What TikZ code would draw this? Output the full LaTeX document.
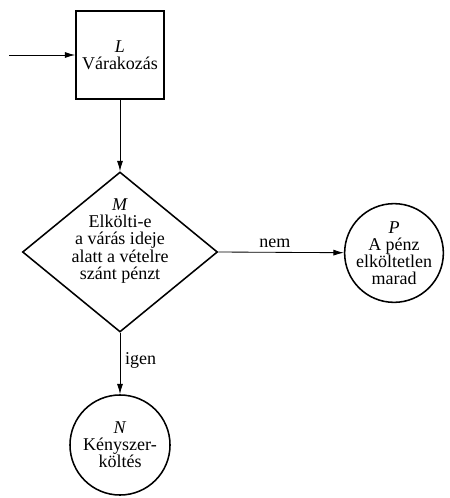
\documentclass[tikz,border=0pt]{standalone}
\usepackage{fontspec}
\setmainfont{Liberation Serif}
\usepackage{tikz}
\usetikzlibrary{arrows.meta,shapes.geometric,positioning,calc}

\begin{document}
\begin{tikzpicture}[x=0.025cm, y=-0.025cm,
  every node/.style={font=\fontsize{12.8}{12.2}\selectfont},
  stepbox/.style={draw, line width=1.1pt, minimum width=2.2cm, minimum height=2.2cm, align=center},
  decision/.style={draw, diamond, line width=1.1pt, minimum width=4.875cm, minimum height=4cm, inner sep=0pt},
  outcome/.style={draw, circle, line width=1.1pt, minimum size=2.45cm, inner sep=0pt, align=center},
  arr/.style={-{Latex[length=2.6mm,width=1.5mm]}, line width=0.6pt},
]
\useasboundingbox (0,0) rectangle (449,498);
\coordinate (in) at (9,55);
\node[stepbox] (L) at (120,55) {\textit{L}\\Várakozás};
\node[decision] (M) at (120,252) {};
\node[align=center] (Mtext) at (120,241) {\textit{M}\\Elkölti-e\\a várás ideje\\alatt a vételre\\szánt pénzt};
\node[outcome] (P) at (394,253) {\textit{P}\\A pénz\\elköltetlen\\marad};
\node[outcome, minimum size=2.5cm] (N) at (120,445) {\textit{N}\\Kényszer-\\költés};
\draw[arr] (in) -- (L);
\draw[arr] (L.south) -- (M.north);
\draw[arr] (M.east) -- node[above, pos=0.45] (nem) {nem} (P);
\draw[arr] (M.south) -- node[right, pos=0.45] (igen) {igen} (N);
\end{tikzpicture}
\end{document}
